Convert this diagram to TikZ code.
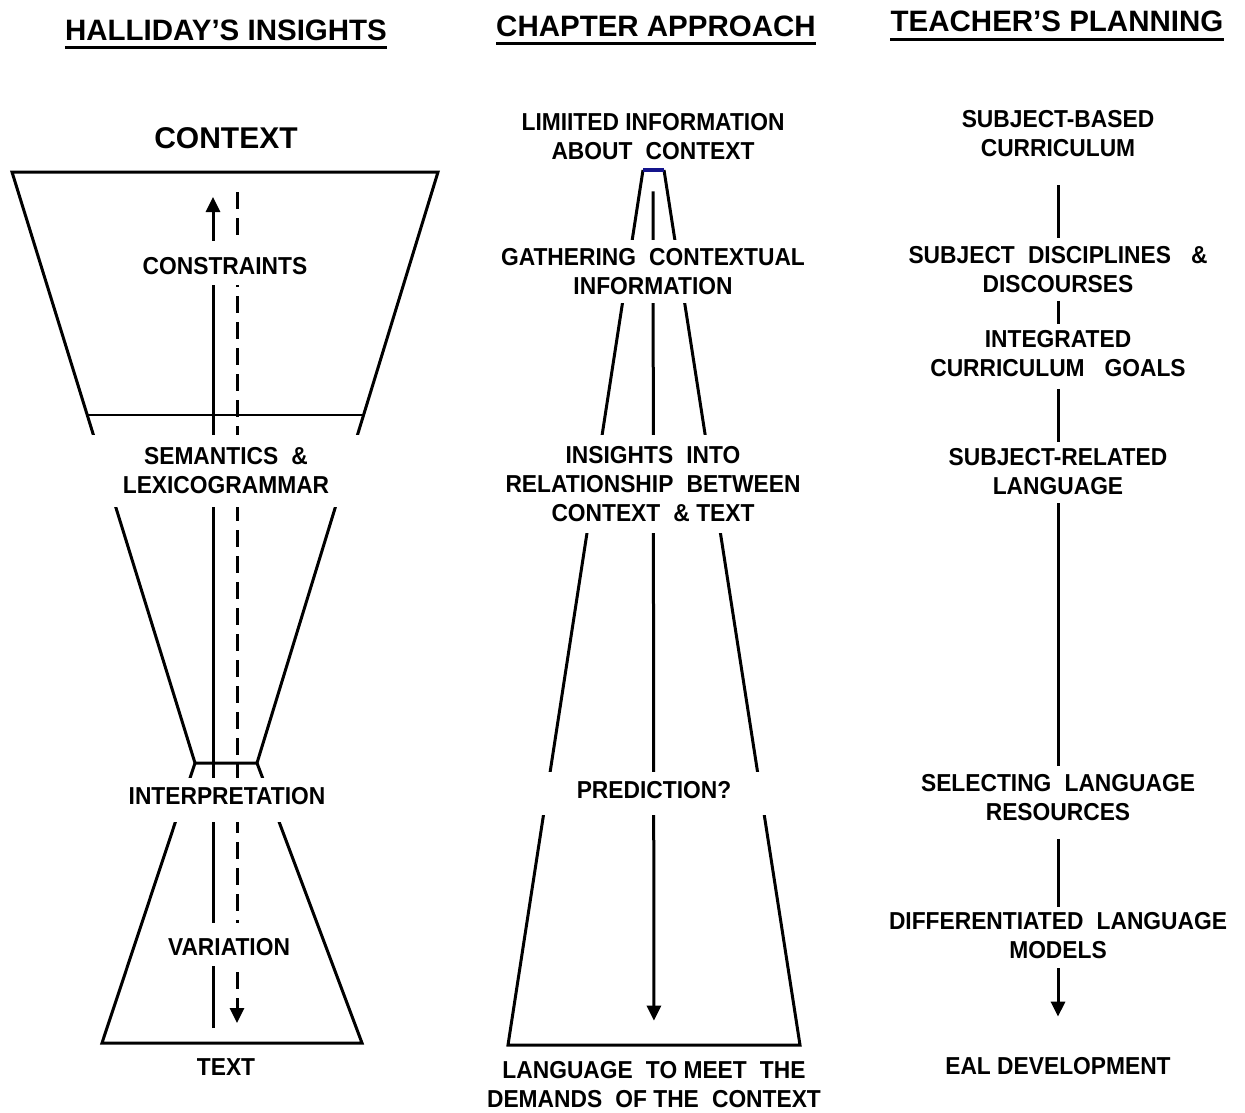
\documentclass[tikz,border=0pt]{standalone}
\usepackage{fontspec}
\setmainfont{Liberation Sans}
\usepackage{tikz}
\usetikzlibrary{arrows.meta,backgrounds}
\definecolor{navyline}{RGB}{20,20,140}

\begin{document}
\begin{tikzpicture}[x=1pt, y=-1pt, >={Triangle[length=15pt,width=14pt]}]
  \tikzset{lbl/.style={font=\bfseries\fontsize{24.5}{29}\selectfont\addfontfeature{FakeStretch=0.93}, align=center, inner sep=0pt}}
  \tikzset{head/.style={font=\bfseries\fontsize{29.5}{33}\selectfont, inner sep=0pt, anchor=base}}
  \tikzset{gap/.style={lbl, fill=white}}
  \tikzset{bar/.style={line width=3pt}}
  \tikzset{thinline/.style={line width=1.3pt}}
  \useasboundingbox (0,0) rectangle (1245,1113);

  % column heads
  \node[head] (h1) at (226,41) {HALLIDAY'S INSIGHTS};
  \node[head] (h2) at (656,37) {CHAPTER APPROACH};
  \node[head] (h3) at (1057,32) {TEACHER'S PLANNING};
  \draw[bar] ([yshift=-7pt]h1.base west) -- ([yshift=-7pt]h1.base east);
  \draw[bar] ([yshift=-7pt]h2.base west) -- ([yshift=-7pt]h2.base east);
  \draw[bar] ([yshift=-8pt]h3.base west) -- ([yshift=-8pt]h3.base east);

  % Halliday
  \node[lbl, font=\bfseries\fontsize{30}{36}\selectfont] (ctx) at (226,138) {CONTEXT};
  \node[gap, anchor=base, text height=33, text depth=11] (cons) at (225,274) {CONSTRAINTS};
  \node[gap, minimum width=292, minimum height=72] (sem) at (226,471) {SEMANTICS \;\&\\LEXICOGRAMMAR};
  \node[gap, anchor=base, text height=26, text depth=18] (interp) at (227,804) {INTERPRETATION};
  \node[gap, anchor=base, text height=32, text depth=11] (var) at (229,955) {VARIATION};
  \node[lbl] (txt) at (226,1067.5) {TEXT};
  \coordinate (upb) at (213,1028);
  \coordinate (upt) at (213,197);
  \coordinate (dnt) at (237,192);
  \coordinate (dnb) at (237,1023);

  % chapter approach
  \node[lbl] (lim) at (653,137) {LIMIITED INFORMATION\\ABOUT \;CONTEXT};
  \node[gap, minimum height=63] (gath) at (653,271.5) {GATHERING \;CONTEXTUAL\\INFORMATION};
  \node[gap, minimum height=98] (ins) at (653,484) {INSIGHTS \;INTO\\RELATIONSHIP \;BETWEEN\\CONTEXT \;\& TEXT};
  \node[gap, anchor=base, text height=26, text depth=17, minimum width=240] (pred) at (654,798) {PREDICTION?};
  \node[lbl] (lang) at (654,1085) {LANGUAGE \;TO MEET \;THE\\DEMANDS \;OF THE \;CONTEXT};

  % teacher
  \node[lbl] (sb) at (1058,134) {SUBJECT-BASED\\CURRICULUM};
  \node[lbl] (sd) at (1058,269.5) {SUBJECT \;DISCIPLINES \;\;\&\\DISCOURSES};
  \node[lbl] (ig) at (1058,353.5) {INTEGRATED\\CURRICULUM \;\;GOALS};
  \node[lbl] (sr) at (1058,472) {SUBJECT-RELATED\\LANGUAGE};
  \node[lbl] (sel) at (1058,797.5) {SELECTING \;LANGUAGE\\RESOURCES};
  \node[lbl] (diff) at (1058,936) {DIFFERENTIATED \;LANGUAGE\\MODELS};
  \node[lbl] (eal) at (1058,1066.5) {EAL DEVELOPMENT};

  \begin{pgfonlayer}{background}
    \draw[bar] (12,172) -- (438,172) -- (257,763) -- (195,763) -- cycle;
    \draw[bar] (195,763) -- (102,1043) -- (362,1043) -- (257,763);
    \draw[thinline] (87,415) -- (364,415);
    \draw[bar, ->] (upb) -- (upt);
    \draw[bar, ->, dash pattern=on 17pt off 9pt] (dnt) -- (dnb);

    \draw[bar] (643,170) -- (508,1045) -- (800,1045) -- (664,170);
    \draw[bar, navyline] (643,170) -- (664,170);
    \draw[bar, ->, shorten <=31pt, shorten >=41pt] (lim) -- (lang);
  \end{pgfonlayer}

  \draw[bar, shorten <=28pt, shorten >=8pt] (sb) -- (sd);
  \draw[bar, shorten <=8pt, shorten >=6pt] (sd) -- (ig);
  \draw[bar, shorten <=12pt, shorten >=7pt] (ig) -- (sr);
  \draw[bar, shorten <=8pt, shorten >=8pt] (sr) -- (sel);
  \draw[bar, shorten <=18pt, shorten >=6pt] (sel) -- (diff);
  \draw[bar, ->, shorten <=9pt, shorten >=41pt] (diff) -- (eal);
\end{tikzpicture}
\end{document}
